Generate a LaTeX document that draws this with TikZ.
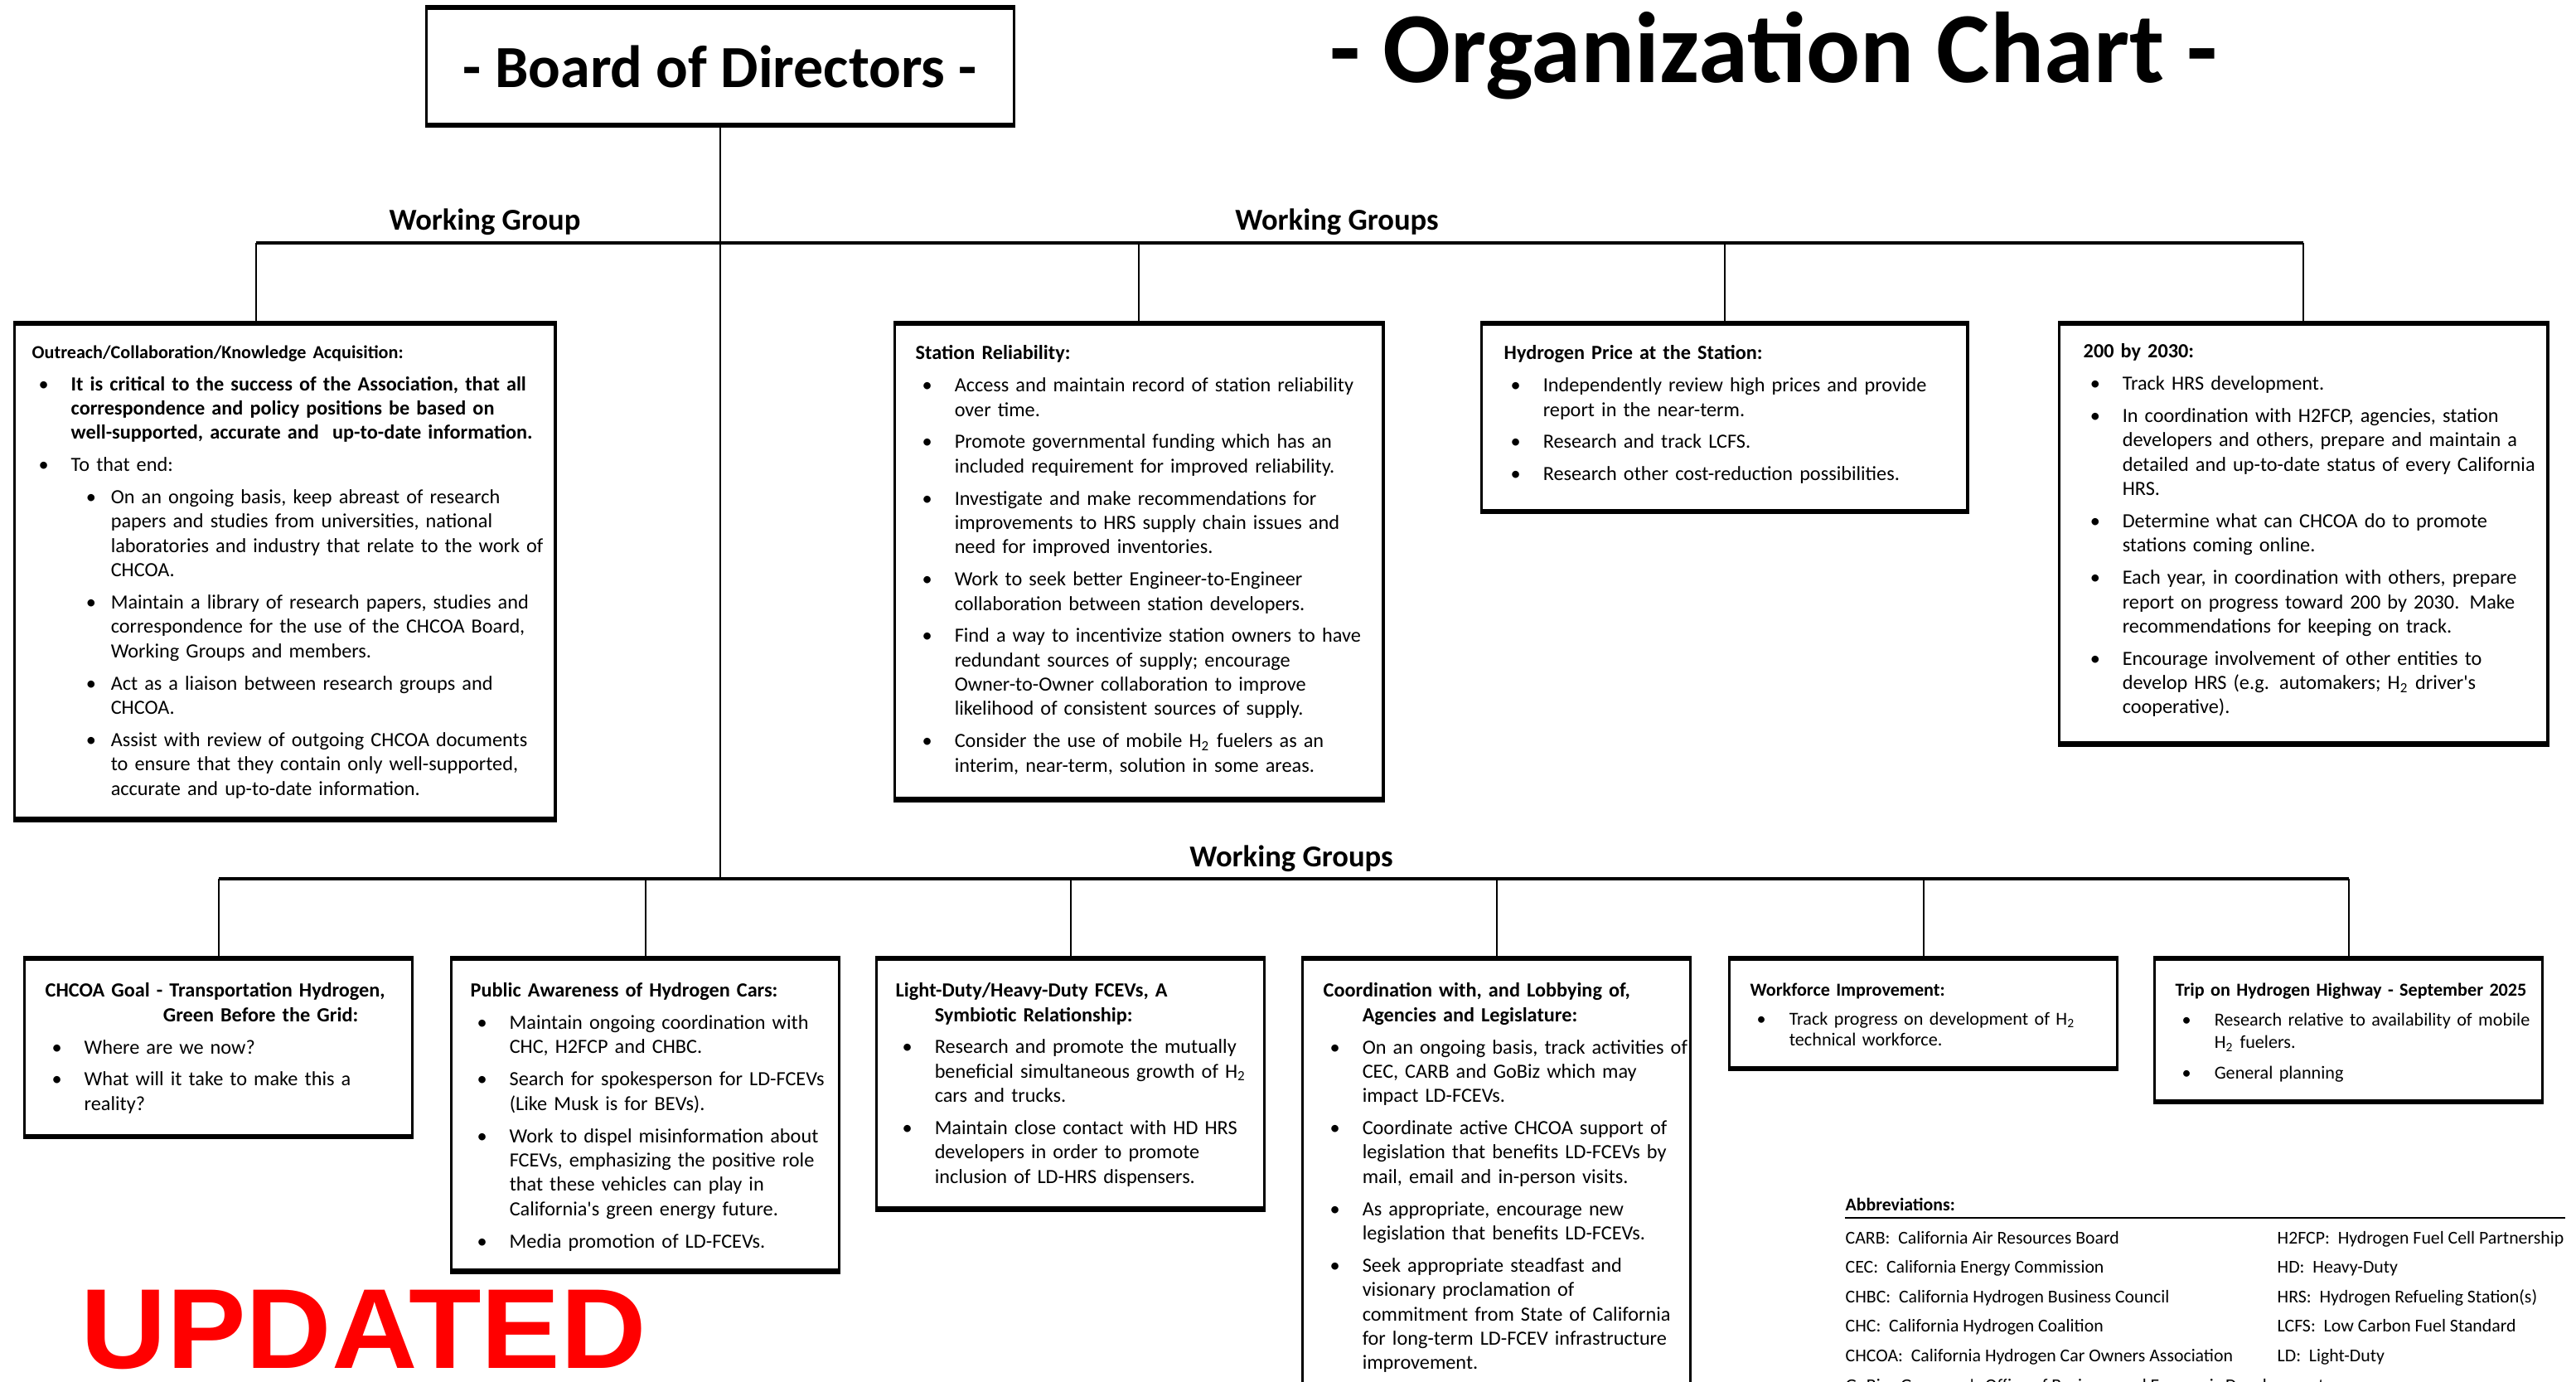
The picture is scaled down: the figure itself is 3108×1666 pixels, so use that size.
\documentclass[tikz,border=0pt]{standalone}
\usepackage{fontspec}
\setmainfont{Carlito}
\newfontfamily\stampfont{Liberation Sans}
\setlength{\parindent}{0pt}

% bullet items, lines broken by hand with \newline
\newcommand{\bul}[1]{\par\vspace{2.7pt}\hangindent=0.47cm\hangafter=1\noindent\hspace*{0.08cm}\makebox[0.39cm][l]{\textbullet}#1\par}
\newcommand{\subbul}[1]{\par\vspace{2.7pt}\hangindent=0.95cm\hangafter=1\noindent\hspace*{0.65cm}\makebox[0.30cm][l]{\textbullet}#1\par}
\newcommand{\Htwo}{H\textsubscript{2}}

\begin{document}
\begin{tikzpicture}[x=0.01cm, y=-0.01cm,
    box/.style={draw, line width=0.9pt, anchor=north west, inner sep=0pt,
      append after command={(\tikzlastnode.north west) edge[line width=1.8pt] (\tikzlastnode.north east)
        (\tikzlastnode.south west) edge[line width=1.8pt] (\tikzlastnode.south east)}},
    txt/.style={anchor=north west, inner sep=0pt, align=left, font=\fontsize{6.9}{8.35}\selectfont},
    wglab/.style={anchor=base, inner sep=0pt, font=\fontsize{10.4}{12}\selectfont\bfseries},
    bus/.style={line width=0.9pt},
    drop/.style={line width=0.5pt},
    abbr/.style={anchor=base west, inner sep=0pt, font=\fontsize{6.2}{7.5}\selectfont}]
    		\newcommand{\topy}{390} % top of upper boxes
    		\newcommand{\boty}{1156} % top of lower boxes
    		\newcommand{\bw}{4.68cm} % width of lower boxes

    		\useasboundingbox (0,0) rectangle (3108,1666);

    		% board and title
    		\node[box, anchor=center, minimum width=7.08cm, minimum height=1.39cm, font=\fontsize{20.5}{24}\selectfont\bfseries] (bod) at (869,80) {- Board of Directors -};
    		\node[anchor=base, inner sep=0pt, font=\fontsize{34.5}{40}\selectfont\bfseries] (title) at (2140,99) {- Organization Chart -};

    		% upper boxes
    		\node[box, minimum width=6.52cm, minimum height=5.95cm] (outreach) at (16,\topy) {};
    		\node[box, minimum width=5.89cm, minimum height=5.71cm] (reliab) at (1078,\topy) {};
    		\node[box, minimum width=5.86cm, minimum height=2.24cm] (price) at (1786,\topy) {};
    		\node[box, minimum width=5.89cm, minimum height=5.04cm] (target) at (2483,\topy) {};

    		% lower boxes
    		\node[box, minimum width=\bw, minimum height=2.12cm] (goal) at (28,\boty) {};
    		\node[box, minimum width=\bw, minimum height=3.74cm] (aware) at (543,\boty) {};
    		\node[box, minimum width=\bw, minimum height=2.99cm] (duty) at (1056,\boty) {};
    		\node[box, minimum width=\bw, minimum height=5.80cm] (lobby) at (1570,\boty) {};
    		\node[box, minimum width=\bw, minimum height=1.30cm] (work) at (2085,\boty) {};
    		\node[box, minimum width=\bw, minimum height=1.70cm] (trip) at (2598,\boty) {};

    		% texts of upper boxes
    		\node[txt, text width=6.4cm] (outreachtxt) at ([xshift=0.22cm, yshift=-0.26cm]outreach.north west) {%
    			{\fontsize{6.3}{8.35}\selectfont\bfseries Outreach/Collaboration/Knowledge Acquisition:}
    			\bul{\textbf{It is critical to the success of the Association, that all\newline correspondence and policy positions be based on\newline well-supported, accurate and\ \ up-to-date information.}}
    			\bul{To that end:}
    			\subbul{On an ongoing basis, keep abreast of research\newline papers and studies from universities, national\newline laboratories and industry that relate to the work of\newline CHCOA.}
    			\subbul{Maintain a library of research papers, studies and\newline correspondence for the use of the CHCOA Board,\newline Working Groups and members.}
    			\subbul{Act as a liaison between research groups and\newline CHCOA.}
    			\subbul{Assist with review of outgoing CHCOA documents\newline to ensure that they contain only well-supported,\newline accurate and up-to-date information.}};
    		\node[txt, text width=6.1cm] (reliabtxt) at ([xshift=0.26cm, yshift=-0.26cm]reliab.north west) {%
    			\textbf{Station Reliability:}
    			\bul{Access and maintain record of station reliability\newline over time.}
    			\bul{Promote governmental funding which has an\newline included requirement for improved reliability.}
    			\bul{Investigate and make recommendations for\newline improvements to HRS supply chain issues and\newline need for improved inventories.}
    			\bul{Work to seek better Engineer-to-Engineer\newline collaboration between station developers.}
    			\bul{Find a way to incentivize station owners to have\newline redundant sources of supply; encourage\newline Owner-to-Owner collaboration to improve\newline likelihood of consistent sources of supply.}
    			\bul{Consider the use of mobile \Htwo{} fuelers as an\newline interim, near-term, solution in some areas.}};
    		\node[txt, text width=6.1cm] (pricetxt) at ([xshift=0.28cm, yshift=-0.26cm]price.north west) {%
    			\textbf{Hydrogen Price at the Station:}
    			\bul{Independently review high prices and provide\newline report in the near-term.}
    			\bul{Research and track LCFS.}
    			\bul{Research other cost-reduction possibilities.}};
    		\node[txt, text width=6.1cm] (targettxt) at ([xshift=0.30cm, yshift=-0.24cm]target.north west) {%
    			\textbf{200 by 2030:}
    			\bul{Track HRS development.}
    			\bul{In coordination with H2FCP, agencies, station\newline developers and others, prepare and maintain a\newline detailed and up-to-date status of every California\newline HRS.}
    			\bul{Determine what can CHCOA do to promote\newline stations coming online.}
    			\bul{Each year, in coordination with others, prepare\newline report on progress toward 200 by 2030. Make\newline recommendations for keeping on track.}
    			\bul{Encourage involvement of other entities to\newline develop HRS (e.g. automakers; \Htwo{} driver\textquotesingle s\newline cooperative).}};

    		% texts of lower boxes
    		\node[txt, text width=5cm] (goaltxt) at ([xshift=0.26cm, yshift=-0.29cm]goal.north west) {%
    			\textbf{CHCOA Goal - Transportation Hydrogen,\newline\hspace*{1.42cm}Green Before the Grid:}
    			\bul{Where are we now?}
    			\bul{What will it take to make this a\newline reality?}};
    		\node[txt, text width=5cm] (awaretxt) at ([xshift=0.24cm, yshift=-0.29cm]aware.north west) {%
    			\textbf{Public Awareness of Hydrogen Cars:}
    			\bul{Maintain ongoing coordination with\newline CHC, H2FCP and CHBC.}
    			\bul{Search for spokesperson for LD-FCEVs\newline (Like Musk is for BEVs).}
    			\bul{Work to dispel misinformation about\newline FCEVs, emphasizing the positive role\newline that these vehicles can play in\newline California\textquotesingle s green energy future.}
    			\bul{Media promotion of LD-FCEVs.}};
    		\node[txt, text width=5cm] (dutytxt) at ([xshift=0.24cm, yshift=-0.29cm]duty.north west) {%
    			\textbf{Light-Duty/Heavy-Duty FCEVs, A\newline\hspace*{0.47cm}Symbiotic Relationship:}
    			\bul{Research and promote the mutually\newline beneficial simultaneous growth of \Htwo\newline cars and trucks.}
    			\bul{Maintain close contact with HD HRS\newline developers in order to promote\newline inclusion of LD-HRS dispensers.}};
    		\node[txt, text width=5cm] (lobbytxt) at ([xshift=0.26cm, yshift=-0.29cm]lobby.north west) {%
    			\textbf{Coordination with, and Lobbying of,\newline\hspace*{0.47cm}Agencies and Legislature:}
    			\bul{On an ongoing basis, track activities of\newline CEC, CARB and GoBiz which may\newline impact LD-FCEVs.}
    			\bul{Coordinate active CHCOA support of\newline legislation that benefits LD-FCEVs by\newline mail, email and in-person visits.}
    			\bul{As appropriate, encourage new\newline legislation that benefits LD-FCEVs.}
    			\bul{Seek appropriate steadfast and\newline visionary proclamation of\newline commitment from State of California\newline for long-term LD-FCEV infrastructure\newline improvement.}};
    		\node[txt, text width=5cm, font=\fontsize{6.3}{7.2}\selectfont] (worktxt) at ([xshift=0.26cm, yshift=-0.29cm]work.north west) {%
    			\textbf{Workforce Improvement:}
    			\bul{Track progress on development of \Htwo\newline technical workforce.}};
    		\node[txt, text width=5cm, font=\fontsize{6.3}{7.7}\selectfont] (triptxt) at ([xshift=0.26cm, yshift=-0.29cm]trip.north west) {%
    			\textbf{Trip on Hydrogen Highway - September 2025}
    			\bul{Research relative to availability of mobile\newline \Htwo{} fuelers.}
    			\bul{General planning}};

    		% group labels
    		\node[wglab] (wglone) at (585,277) {Working Group};
    		\node[wglab] (wgltop) at (1613,277) {Working Groups};
    		\node[wglab] (wglbot) at (1558,1045) {Working Groups};

    		% connectors
    		\coordinate (topbus) at (309,293);
    		\coordinate (botbus) at (262,1060);
    		\draw[drop] (bod.south) -- (bod.south |- botbus);
    		\draw[bus] (topbus) -- (target.north |- topbus);
    		\draw[drop] (topbus) -- (topbus |- outreach.north);
    		\foreach \n in {reliab,price,target}
    		  \draw[drop] (\n.north |- topbus) -- (\n.north);
    		\draw[bus] (goal.north |- botbus) -- (trip.north |- botbus);
    		\foreach \n in {goal,aware,duty,lobby,work,trip}
    		  \draw[drop] (\n.north |- botbus) -- (\n.north);

    		% abbreviations
    		\node[abbr, font=\fontsize{6.2}{7.5}\selectfont\bfseries] (abbhead) at (2226,1460) {Abbreviations:};
    		\coordinate (abbend) at (3095,1469);
    		\draw[line width=0.6pt] (abbhead.west |- abbend) -- (abbend);
    		\foreach \ab [count=\i from 0] in {CARB:\ \ California Air Resources Board, CEC:\ \ California Energy Commission, CHBC:\ \ California Hydrogen Business Council, CHC:\ \ California Hydrogen Coalition, CHCOA:\ \ California Hydrogen Car Owners Association, GoBiz:\ \ Governor\textquotesingle s Office of Business and Economic Development}
    		  \node[abbr] (abl\i) at (2226,1500+35.6*\i) {\ab};
    		\foreach \ab [count=\i from 0] in {H2FCP:\ \ Hydrogen Fuel Cell Partnership, HD:\ \ Heavy-Duty, HRS:\ \ Hydrogen Refueling Station(s), LCFS:\ \ Low Carbon Fuel Standard, LD:\ \ Light-Duty}
    		  \node[abbr] (abr\i) at (2747,1500+35.6*\i) {\ab};

    		% stamp
    		\node[anchor=base west, inner sep=0pt, text=red, font=\stampfont\bfseries\fontsize{39}{42}\selectfont] (stamp) at (97,1650) {\scalebox{1.045}[1]{UPDATED}};
\end{tikzpicture}
\end{document}
